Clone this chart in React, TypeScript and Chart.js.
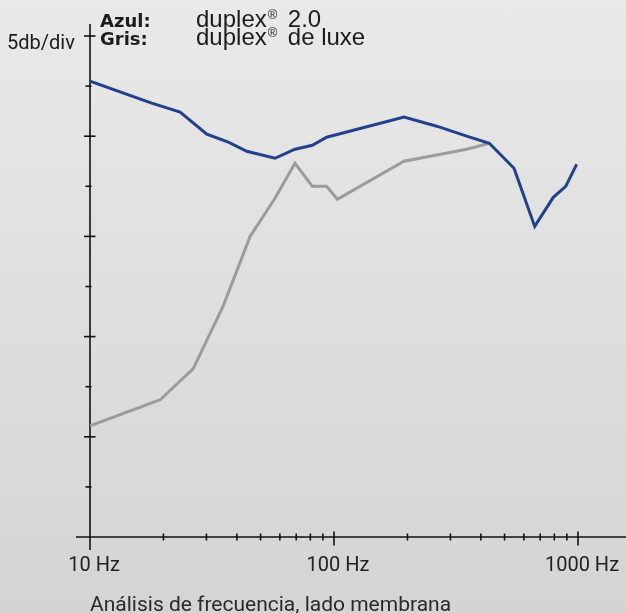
import { useEffect, useRef } from "react";
import { Chart, registerables } from "chart.js";

Chart.register(...registerables);

// ---- data (frequency in Hz, relative level in dB, 5 dB per division) ----
const blueFreq = [10, 17.9, 23.4, 30.1, 36.9, 43.9, 57.3, 69.2, 81.5, 93.3, 193.6, 263.6, 349.9, 433, 546.8, 664.6, 792, 890.6, 988];
const blueDb = [45.5, 43.3, 42.4, 40.2, 39.4, 38.5, 37.8, 38.7, 39.1, 39.9, 41.9, 41.0, 40.0, 39.3, 36.8, 31.0, 33.9, 35.0, 37.2];

const grayFreq = [10, 19.4, 26.5, 35.2, 45.3, 57.3, 69.2, 81.5, 93.3, 103.2, 193.6, 349.9, 433];
const grayDb = [11.1, 13.7, 16.8, 23.1, 30.0, 33.8, 37.3, 35.0, 35.0, 33.7, 37.5, 38.7, 39.3];

const xMajorTicks = [10, 100, 1000];
const xMinorTicks = [20, 30, 40, 50, 60, 70, 80, 90, 200, 300, 400, 500, 600, 700, 800, 900];
const yTicks = [5, 10, 15, 20, 25, 30, 35, 40, 45, 50];

const legendKeys = ["Azul:", "Gris:"];
const productName = "duplex";
const productMark = "®";
const productVariants = ["2.0", "de luxe"];
const yUnitLabel = "5db/div";
const chartTitle = "Análisis de frecuencia, lado membrana";

const BLUE = "#22408e";
const GRAY = "#9b9b9b";
const INK = "#1c1c1c";

const decorPlugin = {
  id: "decor",
  beforeDatasetsDraw(chart: any) {
    const { ctx, chartArea, scales } = chart;
    const x = scales.x;
    const y = scales.y;
    const x0 = x.getPixelForValue(10);
    const y0 = y.getPixelForValue(0);
    ctx.save();
    ctx.strokeStyle = "#111";
    ctx.lineWidth = 1.6;
    const line = (a: number, b: number, c: number, d: number) => {
      ctx.beginPath();
      ctx.moveTo(a, b);
      ctx.lineTo(c, d);
      ctx.stroke();
    };
    // axes
    line(x0, chartArea.top - 12, x0, y0 + 13);
    line(x0 - 14, y0, chart.width, y0);
    // y ticks
    yTicks.forEach((v) => {
      const py = y.getPixelForValue(v);
      const long = v % 10 === 0;
      line(long ? x0 - 6 : x0 - 4.5, py, long ? x0 + 5.5 : x0 + 1.5, py);
    });
    // x ticks
    xMinorTicks.forEach((v) => {
      const px = x.getPixelForValue(v);
      line(px, y0 - 3.5, px, y0 + 3.5);
    });
    xMajorTicks.slice(1).forEach((v) => {
      const px = x.getPixelForValue(v);
      line(px, y0 - 5.5, px, y0 + 8.5);
    });
    ctx.restore();
  },
  afterDraw(chart: any) {
    const { ctx, chartArea } = chart;
    ctx.save();
    ctx.fillStyle = INK;
    ctx.textBaseline = "alphabetic";
    ctx.textAlign = "left";
    // unit label
    ctx.font = "20px Roboto";
    ctx.fillText(yUnitLabel, 7, 49);
    // legend
    const baselines = [27, 45];
    legendKeys.forEach((key, i) => {
      const by = baselines[i];
      ctx.font = 'bold 18px "DejaVu Sans"';
      ctx.fillText(key, 100, by);
      ctx.font = '24px "Liberation Sans"';
      ctx.fillText(productName, 196, by);
      let cx = 196 + ctx.measureText(productName).width + 1;
      ctx.font = '13px "Liberation Sans"';
      ctx.fillText(productMark, cx, by - 8);
      cx += ctx.measureText(productMark).width + 10.5;
      ctx.font = '24px "Liberation Sans"';
      ctx.fillText(productVariants[i], cx, by);
    });
    // title
    ctx.font = "21px Roboto";
    ctx.fillStyle = "#2a2a2a";
    ctx.fillText(chartTitle, chartArea.left, 610.5);
    ctx.restore();
  },
};

export default function App() {
  const ref = useRef<HTMLCanvasElement | null>(null);

  useEffect(() => {
    document.body.style.margin = "0";
    if (!ref.current) return;
    const chart = new Chart(ref.current, {
      type: "line",
      data: {
        datasets: [
          {
            label: "duplex® de luxe",
            data: grayFreq.map((f, i) => ({ x: f, y: grayDb[i] })),
            borderColor: GRAY,
            borderWidth: 3,
            pointRadius: 0,
            tension: 0,
            order: 2,
          },
          {
            label: "duplex® 2.0",
            data: blueFreq.map((f, i) => ({ x: f, y: blueDb[i] })),
            borderColor: BLUE,
            borderWidth: 3,
            pointRadius: 0,
            tension: 0,
            order: 1,
          },
        ],
      },
      options: {
        animation: false,
        responsive: false,
        devicePixelRatio: 1,
        layout: { padding: { left: 90, right: 48, top: 36, bottom: 0 } },
        plugins: {
          legend: { display: false },
          tooltip: { enabled: false },
          title: { display: false },
        },
        scales: {
          x: {
            type: "logarithmic",
            min: 10,
            max: 1000,
            afterBuildTicks: (s: any) => {
              s.ticks = xMajorTicks.map((v) => ({ value: v }));
            },
            afterFit: (s: any) => {
              s.height = 76;
              s.paddingLeft = 0;
              s.paddingRight = 0;
            },
            ticks: {
              callback: (v: any) => `${v} Hz`,
              font: { family: "Roboto", size: 20 },
              color: "#222",
              padding: 17,
              labelOffset: 4,
              autoSkip: false,
              maxRotation: 0,
            },
            grid: { display: false, drawTicks: false },
            border: { display: false },
          },
          y: {
            type: "linear",
            min: 0,
            max: 50,
            display: false,
          },
        },
      },
      plugins: [decorPlugin],
    } as any);
    return () => chart.destroy();
  }, []);

  return (
    <div
      style={{
        width: 626,
        height: 613,
        background: "linear-gradient(#e9e9e9, #d4d4d4)",
      }}
    >
      <canvas ref={ref} width={626} height={613} style={{ display: "block" }} />
    </div>
  );
}
